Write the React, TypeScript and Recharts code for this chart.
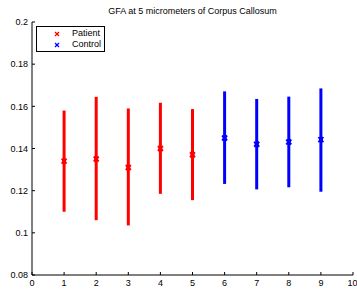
import { ScatterChart, Scatter, XAxis, YAxis, ErrorBar, Legend } from "recharts";

const patientX = [1, 2, 3, 4, 5];
const patientMean = [0.134, 0.135, 0.131, 0.14, 0.137];
const patientLow = [0.11, 0.106, 0.1035, 0.1185, 0.1155];
const patientHigh = [0.158, 0.1645, 0.159, 0.1617, 0.1587];

const controlX = [6, 7, 8, 9];
const controlMean = [0.145, 0.142, 0.1431, 0.1442];
const controlLow = [0.1232, 0.1206, 0.1216, 0.1195];
const controlHigh = [0.1671, 0.1635, 0.1646, 0.1685];

const xTicks = [0, 1, 2, 3, 4, 5, 6, 7, 8, 9, 10];
const yTicks = [0.08, 0.1, 0.12, 0.14, 0.16, 0.18, 0.2];

const build = (xs: number[], mean: number[], low: number[], high: number[]) =>
  xs.map((x, i) => ({ x, y: mean[i], err: [mean[i] - low[i], high[i] - mean[i]] }));

const patientData = build(patientX, patientMean, patientLow, patientHigh);
const controlData = build(controlX, controlMean, controlLow, controlHigh);

const FONT = "'Liberation Sans', Arial, Helvetica, sans-serif";

const XMark = ({ cx, cy, fill }: any) => (
  <g>
    <line x1={cx - 2.5} y1={cy - 2.5} x2={cx + 2.5} y2={cy + 2.5} stroke={fill} strokeWidth={2} />
    <line x1={cx - 2.5} y1={cy + 2.5} x2={cx + 2.5} y2={cy - 2.5} stroke={fill} strokeWidth={2} />
    <rect x={cx - 2} y={cy - 2} width={4} height={4} fill={fill} />
  </g>
);

const LegendBox = () => (
  <div
    style={{
      border: "1px solid #000",
      background: "#fff",
      width: 69,
      height: 26,
      fontFamily: FONT,
      fontSize: 9,
      lineHeight: "11px",
      boxSizing: "border-box",
      paddingTop: 1,
    }}
  >
    {[
      { name: "Patient", color: "#ff0000" },
      { name: "Control", color: "#0000ff" },
    ].map((it) => (
      <div key={it.name} style={{ display: "flex", alignItems: "center", height: 11 }}>
        <svg width={35} height={11}>
          <line x1={18} y1={4} x2={22} y2={8} stroke={it.color} strokeWidth={1.2} />
          <line x1={18} y1={8} x2={22} y2={4} stroke={it.color} strokeWidth={1.2} />
        </svg>
        <span style={{ color: "#000" }}>{it.name}</span>
      </div>
    ))}
  </div>
);

export default function App() {
  return (
    <div style={{ position: "relative", width: 357, height: 293, background: "#fff" }}>
      <style>{"body{margin:0}"}</style>
      <div
        style={{
          position: "absolute",
          left: 32,
          width: 321,
          top: 6,
          textAlign: "center",
          fontFamily: FONT,
          fontSize: 9,
          color: "#000",
        }}
      >
        GFA at 5 micrometers of Corpus Callosum
      </div>
      <ScatterChart width={357} height={293} margin={{ top: 22, right: 4, bottom: 0, left: 0 }}>
        <XAxis
          dataKey="x"
          type="number"
          domain={[0, 10]}
          ticks={xTicks}
          height={18}
          tickSize={-3}
          tickMargin={8}
          axisLine={{ stroke: "#000" }}
          tickLine={{ stroke: "#000" }}
          tick={{ fill: "#000", fontSize: 9, fontFamily: FONT }}
          allowDataOverflow
        />
        <XAxis
          xAxisId="top"
          orientation="top"
          type="number"
          domain={[0, 10]}
          ticks={xTicks}
          height={0}
          tickSize={-3}
          tick={false}
          axisLine={{ stroke: "#000" }}
          tickLine={{ stroke: "#000" }}
        />
        <YAxis
          dataKey="y"
          type="number"
          domain={[0.08, 0.2]}
          ticks={yTicks}
          width={32}
          tickSize={-3}
          tickMargin={7}
          axisLine={{ stroke: "#000" }}
          tickLine={{ stroke: "#000" }}
          tick={{ fill: "#000", fontSize: 9, fontFamily: FONT }}
          allowDataOverflow
        />
        <YAxis
          yAxisId="right"
          orientation="right"
          type="number"
          domain={[0.08, 0.2]}
          ticks={yTicks}
          width={0}
          tickSize={-3}
          tick={false}
          axisLine={{ stroke: "#000" }}
          tickLine={{ stroke: "#000" }}
        />
        <Legend
          layout="horizontal"
          verticalAlign="middle"
          align="center"
          content={<LegendBox />}
          wrapperStyle={{ left: 36, top: 26, width: 69 }}
        />
        <Scatter name="Patient" data={patientData} fill="#ff0000" shape={<XMark />} isAnimationActive={false}>
          <ErrorBar dataKey="err" direction="y" width={0} stroke="#ff0000" strokeWidth={3} />
        </Scatter>
        <Scatter name="Control" data={controlData} fill="#0000ff" shape={<XMark />} isAnimationActive={false}>
          <ErrorBar dataKey="err" direction="y" width={0} stroke="#0000ff" strokeWidth={3} />
        </Scatter>
      </ScatterChart>
    </div>
  );
}
